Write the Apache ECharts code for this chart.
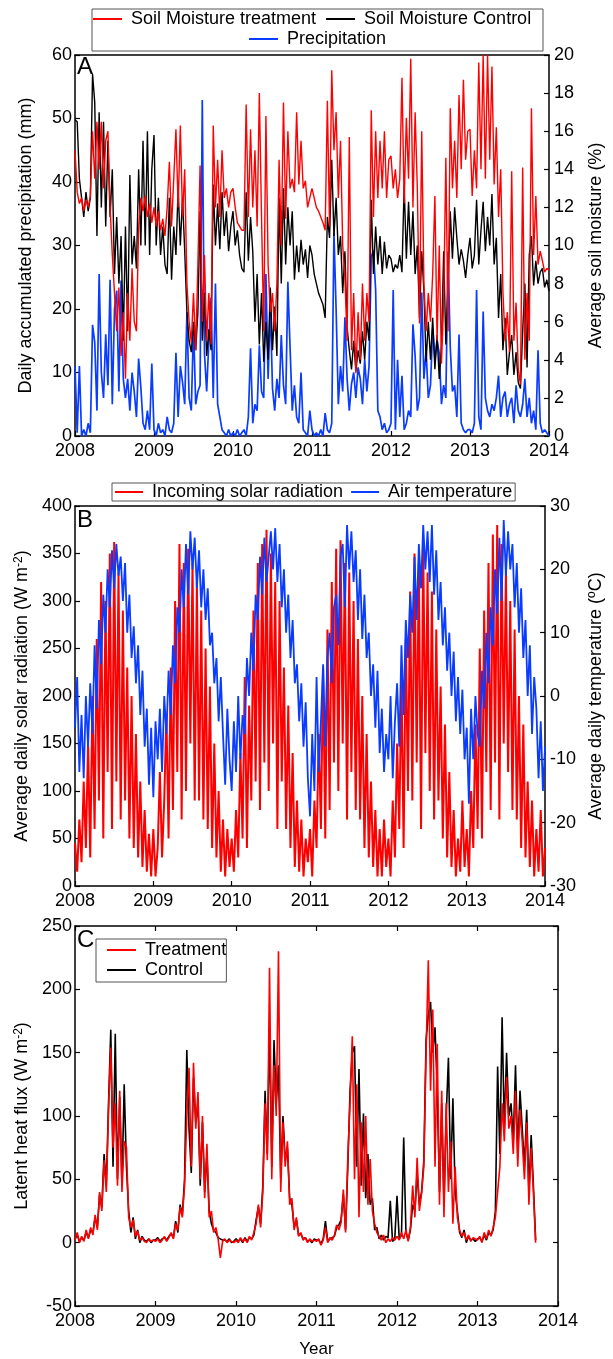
<!DOCTYPE html>
<html>
<head>
<meta charset="utf-8">
<script src="https://cdn.jsdelivr.net/npm/echarts@6.0.0/dist/echarts.min.js"></script>
<style>
html,body{margin:0;padding:0;background:#fff;}
#main{width:613px;height:1359px;}
</style>
</head>
<body>
<div id="main"></div>
<script>
// samples every ~10 days (36 per year) starting 2008-01-01
var perYear = 36;

// panel A: daily precipitation (mm)
var precip = [
 11,0.5,11,0,1,0,2,0.5,17.5,14.7,4,25.5,10,6,16,8,24.6,5,20,22.9,7,24.5,9,6,9,4,10,7,3,12.2,7.7,2,1,4,1,11.4,
 1,0,2,0.5,1,0,3,1,0.5,2,13.1,3,11,8.5,5,19.5,6,4,17.6,5,7,8,52.9,13,7,15,21.8,6,24,5,3,1,0.5,0,1,0,
 0.5,0,1,0,0.5,1,0,3,13.8,2,5,4,14.3,7,6,25.5,9,20.6,7.5,4,9,6,15.9,8,5,24.3,14,4,8,3,2,10,1,0.5,0,4,
 1,0,0.5,0,1,0,3.6,1,0.5,2,32,19.8,5,11,7,18.7,9,4,8.2,10,6,10.8,9,5,12,7,11,28.2,29.2,23,4,3,1,2,0.5,1,
 2,23,1,12,3,9.5,1,2,4,3,17.6,12.6,4,6,22.6,9,13.4,6,8,17,12,15,13,5,8,6,29,14,7,8,3,16,2,1,0.5,1,
 1,0.5,2,23,3,1,19.6,6,4,3,5,4,6,9.5,3,6,7,3,5,6,2,8,4,3,5,9,3,6,2,4,1,13.5,2,0.5,1,0.5,0
];

// panel A: average soil moisture (%)
var smTreat = [
 15,12.8,12.2,12.5,11.8,12.4,12,12.6,16,13.5,16.5,14,16.5,13,15.5,16,12,9.5,7.5,5.5,7.8,4.2,6.5,3,7.5,5,8.8,6,5.5,11,12.5,11.8,12.6,11.5,12.2,11.2,
 12,11,11.8,10.8,11.4,10.5,12,14.4,11,13.5,16.1,12,16.3,11.5,14,8,6,4.9,7.5,4.5,9,14.2,6,9.5,5,7.5,4.8,16.3,12,14.5,11.5,15,12.5,13,12,12.8,
 13,12,11.2,11,10.8,10.8,17.4,11.5,16.1,12,15,11,18,11.5,5.5,16.8,9,6.5,7.5,5.5,8,14.5,10,17.5,11.4,16,13,13.5,12.8,17,13.2,15.5,13,13.4,12,12.5,
 13,12.5,12,11.8,11.5,11.2,10.8,17.6,11,19.2,15,17,12.5,15.5,10,8.3,5,15.7,4.5,7.5,3.3,6.5,4,8,5,7.5,6,17.1,11.5,16,12.5,15.5,13,16,12.5,14.5,
 14.7,13,14,12.5,13.5,18.8,12.2,16.7,13.5,19.8,12,17,13,5.9,16,8,5.5,7.5,6,8.5,12.6,5,10,3.8,7,14.6,5.5,17.2,13,15.5,12.5,17.9,14,18.7,14.5,16,
 16.1,12.6,15,13,19.6,14,20,13.5,20,14.5,19.4,13.2,16.2,11.5,14,7.6,5,6.5,4.4,13.9,5,7,3.5,2.7,14.1,4,7.5,5,17.2,9.5,12.6,9,9.7,9.2,8.6,8.8,8.7
];
var smControl = [
 16.6,16.5,13.5,12.5,11.5,12.8,11.8,12.5,19,17.5,10.5,17,12,16.5,11,15.5,11.5,14,8.5,11.5,8,10.5,5,11,5.5,13.7,9,10.5,8.8,14,10,15.5,10,16,9.5,14,
 15.8,10,12.5,9.5,11,9,8.5,12.5,8.2,11,9.5,13,10,12.5,9.7,6.5,5,4.4,6,4.5,6.5,11.8,5,7.5,4.2,5.6,4.5,13.2,10,12.2,9.8,12.8,10.5,11.8,9.7,11,
 11.8,10,10.8,9.5,8.8,8.6,12.8,9.2,11.5,9.7,6,8.5,4.8,7.5,3.9,6,4,7.8,4.5,6.8,4.2,12.5,8,13,9,12,10,11.8,8.2,10,8.6,10.3,9,9.8,8.3,10,
 9.5,8.5,8,7.5,7.2,6.9,6.2,11.5,10.4,14.5,10.5,12.5,9.5,10.5,7.5,9.7,5.7,4.5,3.5,5,3.4,4.5,3.8,5.5,4,6,5,12.4,8.5,11,9,10.5,8.5,10.2,8.8,9.5,
 9.3,8.6,9,8.8,9.5,8.6,13.2,9.3,12.3,9.5,11.8,8.5,10,6.2,9.7,7.6,3.9,6,4,6.2,3.5,5.3,3,4.8,9.7,4.8,8,11.8,9.3,12,10.4,9,9.8,9.2,8.3,9.5,
 10.4,8.8,9.5,12.4,9,10.8,12.3,9.7,11.5,10,12.7,9,10.4,6.2,8.5,4.5,6.2,3.2,4.4,5.3,3.2,4.4,2.8,2.5,5.5,8,3.6,9.5,10.5,7.9,9.2,8,8.6,8.8,7.8,8.2,7.6
];

// panel B: incoming solar radiation (W m-2) and air temperature (C)
var solar = [
 45,15,70,25,110,40,150,30,200,60,260,90,320,50,300,120,350,60,362,110,330,70,290,90,230,50,200,40,160,30,110,20,80,15,55,10,
 60,10,40,120,30,90,180,50,230,80,300,120,360,70,340,100,355,150,340,90,320,90,290,70,250,60,210,40,150,30,100,15,70,10,60,20,
 50,15,80,30,140,50,220,40,190,90,290,110,340,80,360,130,375,100,350,150,320,60,300,110,230,60,190,40,140,20,90,15,70,10,50,25,
 60,10,90,40,160,60,230,50,270,80,320,130,355,100,364,150,340,70,330,120,300,80,260,70,200,40,160,30,110,20,80,10,60,10,70,20,
 50,10,90,30,150,60,220,40,260,100,310,90,350,130,340,60,360,140,330,100,310,70,270,90,210,50,170,30,120,20,80,10,50,15,90,20,
 60,10,100,40,170,60,250,50,290,120,340,80,370,130,380,70,360,150,330,120,300,80,270,70,200,40,170,30,110,20,90,10,60,15,80,10,40
];
var airTemp = [
 -5,3,-12,-3,-13,0,-8,2,-6,8,-2,12,5,16,10,20,14,23,17,24,19,22,15,21,10,16,6,11,2,8,-3,4,-8,-2,-14,-5,
 -16,-4,-10,-2,-12,0,-6,4,-3,8,2,14,10,20,14,24,16,26,20,25,17,23,14,20,12,17,8,10,2,6,-4,3,-6,-14,-2,-10,
 -15,-4,-12,0,-10,-3,-6,6,0,10,4,16,12,22,16,25,18,22,26,20,26.5,18,24,14,20,10,16,6,12,2,5,-4,2,-8,-1,-13,
 -19,-6,-15,3,-12,-4,5,-8,6,10,2,14,16,8,22,24,14,27,20,26,18,23,12,20,9,16,6,10,0,5,-5,4,-9,-2,-12,-6,
 -10,0,-13,-4,2,-8,8,-3,12,6,16,10,22,12,24,17,27,20,26,18,27,16,23,12,18,8,14,4,10,0,7,-4,3,-6,1,-10,
 -5,-17,-2,-10,0,-6,-8,4,-2,10,2,14,8,20,13,25,15,27.8,19,26,20,24,14,21,10,17,6,12,0,8,-6,3,-2,-13,-4,-15,-8
];

// panel C: latent heat flux (W m-2)
var leTreat = [
 2,8,0,5,1,10,3,12,6,22,10,40,25,65,40,105,154,75,110,45,120,40,80,75,20,12,18,5,9,2,4,1,0,3,1,2,
 1,3,0,2,5,1,4,8,3,15,10,28,20,45,100,138,60,142,90,119,50,100,35,78,20,25,8,12,3,-12,1,3,0,2,1,0,
 2,0,4,1,3,0,5,2,8,15,30,12,40,110,65,217,50,140,100,230,40,95,60,80,30,35,10,20,5,8,2,4,0,3,1,2,
 1,3,-2,2,12,0,4,2,6,14,10,16,42,8,67,110,163,50,125,20,95,40,100,30,66,25,15,8,5,2,6,0,3,1,4,2,
 5,2,8,3,10,1,12,45,20,67,25,39,60,150,223,120,184,60,157,30,120,20,110,40,80,15,60,20,10,5,8,2,6,1,4,3,
 2,5,0,8,3,10,5,12,20,40,60,110,80,131,90,100,70,120,60,105,80,50,95,30,75,40,0
];
var leControl = [
 3,6,1,4,2,8,4,10,8,20,12,38,28,70,45,110,168,60,165,50,115,45,125,60,25,8,20,3,10,0,5,2,1,3,0,2,
 2,4,1,3,4,2,5,7,4,17,8,30,22,50,152,90,55,130,95,110,45,95,40,70,25,15,10,8,4,3,2,2,1,3,0,1,
 3,1,3,0,4,1,4,3,6,18,28,15,45,120,70,170,60,160,110,140,50,100,65,75,35,30,12,18,6,7,3,4,1,2,0,3,
 2,2,-1,3,17,1,3,4,5,12,14,18,38,10,60,120,150,155,60,137,45,102,35,70,30,35,10,12,3,6,2,5,4,33,1,3,
 37,3,6,83,8,2,10,30,25,55,30,40,65,160,180,190,150,170,120,40,110,30,100,146,50,114,40,25,8,4,10,0,5,2,3,1,
 3,4,1,6,2,8,6,10,25,139,70,178,90,150,100,110,80,140,70,120,90,60,105,40,85,45,2
];

var font = 'Liberation Sans, Arial, Helvetica, sans-serif';

function toXY(arr) {
    return arr.map(function (v, i) { return [2008 + i / perYear, v]; });
}

function xAx(grid, pos, opts) {
    opts = opts || {};
    return {
        type: 'value', gridIndex: grid, position: pos,
        min: 2008, max: 2014, interval: 1,
        axisLine: {show: true, onZero: false, lineStyle: {color: '#000', width: 1.5}},
        axisTick: {show: !!opts.ticks, inside: true, length: 5, lineStyle: {color: '#000', width: 1.2}},
        axisLabel: {show: !!opts.labels, color: '#000', fontSize: 18, fontFamily: font, margin: 6,
            formatter: function (v) { return String(v); }},
        splitLine: {show: false},
        name: opts.name || '', nameLocation: 'middle', nameGap: 35,
        nameTextStyle: {color: '#000', fontSize: 17, fontFamily: font}
    };
}

function yAx(grid, pos, min, max, step, name, gap, showLabels) {
    return {
        type: 'value', gridIndex: grid, position: pos,
        min: min, max: max, interval: step,
        axisLine: {show: true, onZero: false, lineStyle: {color: '#000', width: 1.5}},
        axisTick: {show: true, inside: true, length: 5, lineStyle: {color: '#000', width: 1.2}},
        axisLabel: {show: showLabels, color: '#000', fontSize: 18, fontFamily: font, margin: pos == 'left' ? 3 : 5},
        splitLine: {show: false},
        name: name, nameLocation: 'middle', nameGap: gap, nameRotate: 90,
        nameTextStyle: {color: '#000', fontSize: 18, fontFamily: font,
            rich: {sup: {fontSize: 12, fontFamily: font, color: '#000', verticalAlign: 'top', lineHeight: 14}}}
    };
}

function line(name, data, xi, yi, color, z, w) {
    return {
        name: name, type: 'line', xAxisIndex: xi, yAxisIndex: yi,
        data: toXY(data), showSymbol: false, symbol: 'none', z: z,
        lineStyle: {color: color, width: w}, itemStyle: {color: color},
        emphasis: {disabled: true}, animation: false
    };
}

var legendText = {color: '#000', fontSize: 18, fontFamily: font, padding: [0, 0, 0, 4]};

var chart = echarts.init(document.getElementById('main'), null, {renderer: 'canvas'});
var option = {
    backgroundColor: '#fff',
    animation: false,
    textStyle: {fontFamily: font},
    grid: [
        {left: 75, top: 55, width: 483, height: 381},
        {left: 75, top: 506, width: 483, height: 380},
        {left: 75, top: 926, width: 483, height: 381}
    ],
    xAxis: [
        xAx(0, 'bottom', {labels: true, ticks: true}),
        xAx(0, 'top', {}),
        xAx(1, 'bottom', {labels: true, ticks: true}),
        xAx(1, 'top', {}),
        xAx(2, 'bottom', {labels: true, ticks: true, name: 'Year'}),
        xAx(2, 'top', {ticks: true})
    ],
    yAxis: [
        yAx(0, 'left', 0, 60, 10, 'Daily accumulated precipitation (mm)', 40, true),
        yAx(0, 'right', 0, 20, 2, 'Average soil moisture (%)', 38, true),
        yAx(1, 'left', 0, 400, 50, 'Average daily solar radiation (W m{sup|-2})', 40, true),
        yAx(1, 'right', -30, 30, 10, 'Average daily temperature (\u00baC)', 38, true),
        yAx(2, 'left', -50, 250, 50, 'Latent heat flux (W m{sup|-2})', 40, true),
        yAx(2, 'right', -50, 250, 50, '', 30, false)
    ],
    legend: [
        {data: ['Soil Moisture treatment', 'Soil Moisture Control'], left: 93, top: 10,
         itemWidth: 29, itemHeight: 2, icon: 'rect', itemGap: 10, padding: 0, textStyle: legendText},
        {data: ['Precipitation'], left: 249, top: 30,
         itemWidth: 29, itemHeight: 2, icon: 'rect', padding: 0, textStyle: legendText},
        {data: ['Incoming solar radiation', 'Air temperature'], left: 112, top: 483,
         itemWidth: 28, itemHeight: 2, icon: 'rect', itemGap: 8, padding: [0, 3, 0, 3],
         borderColor: '#555', borderWidth: 1, textStyle: legendText},
        {data: ['Treatment', 'Control'], orient: 'vertical', left: 96, top: 939,
         itemWidth: 29, itemHeight: 2, icon: 'rect', itemGap: 2, padding: [2, 0, 3, 11],
         borderColor: '#555', borderWidth: 1, textStyle: legendText}
    ],
    graphic: [
        {type: 'rect', shape: {x: 92, y: 9, width: 451, height: 42}, silent: true,
         style: {fill: 'none', stroke: '#555', lineWidth: 1}},
        {type: 'text', left: 77, top: 55, silent: true, style: {text: 'A', fontSize: 24, fontFamily: font, fill: '#000'}},
        {type: 'text', left: 77, top: 508, silent: true, style: {text: 'B', fontSize: 24, fontFamily: font, fill: '#000'}},
        {type: 'text', left: 77, top: 928, silent: true, style: {text: 'C', fontSize: 24, fontFamily: font, fill: '#000'}}
    ],
    series: [
        line('Precipitation', precip, 0, 0, '#0a3cff', 2, 1.7),
        line('Soil Moisture Control', smControl, 0, 1, '#000000', 3, 1.4),
        line('Soil Moisture treatment', smTreat, 0, 1, '#ff0000', 4, 1.4),
        line('Incoming solar radiation', solar, 2, 2, '#ff0000', 2, 2),
        line('Air temperature', airTemp, 2, 3, '#0a3cff', 3, 1.8),
        line('Control', leControl, 4, 4, '#000000', 2, 1.6),
        line('Treatment', leTreat, 4, 4, '#ff0000', 3, 1.6)
    ]
};
chart.setOption(option);
</script>
</body>
</html>
